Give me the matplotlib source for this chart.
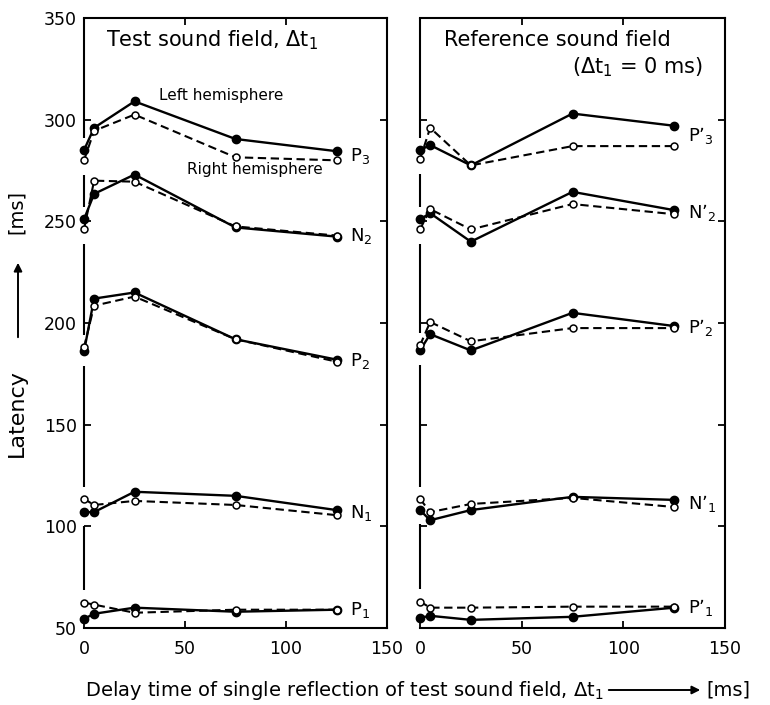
import matplotlib
matplotlib.use("Agg")
import matplotlib.pyplot as plt

# delay time of the single reflection [ms]
delays = [0, 5, 25, 75, 125]

# test sound field, left hemisphere (filled) / right hemisphere (open)
test_left = {
    "P$_3$": [285, 296, 309, 290.5, 284.5],
    "N$_2$": [251, 263.5, 273, 247, 242.5],
    "P$_2$": [186, 212, 215, 192, 182],
    "N$_1$": [107, 107, 117, 115, 108],
    "P$_1$": [54.5, 57, 60, 58, 59],
}
test_right = {
    "P$_3$": [280, 294.5, 302.5, 281.5, 280],
    "N$_2$": [246, 270, 269.5, 247.5, 243],
    "P$_2$": [188, 208.5, 213, 192, 181],
    "N$_1$": [113.5, 110.5, 112.5, 110.5, 105.5],
    "P$_1$": [62.5, 61.5, 57.5, 59, 59],
}

# reference sound field
ref_left = {
    "P’$_3$": [285, 287.5, 277.5, 303, 297],
    "N’$_2$": [251, 254, 240, 264.5, 255.5],
    "P’$_2$": [186.5, 194.5, 186.5, 205, 198.5],
    "N’$_1$": [108, 103, 108, 114.5, 113],
    "P’$_1$": [55, 56, 54, 55.5, 60],
}
ref_right = {
    "P’$_3$": [280.5, 296, 277.5, 287, 287],
    "N’$_2$": [246, 256, 246, 258.5, 253.5],
    "P’$_2$": [189, 200.5, 191, 197.5, 197.5],
    "N’$_1$": [113.5, 107, 111, 114, 109.5],
    "P’$_1$": [63, 60, 60, 60.5, 60.5],
}

W, H = 770, 705
plt.rcParams['font.family'] = ['DejaVu Sans']
plt.rcParams['mathtext.fontset'] = 'dejavusans'
plt.rcParams['mathtext.default'] = 'regular'
fig = plt.figure(figsize=(W / 100, H / 100), dpi=100)

def fx(px):
    return px / W

def fy(py):
    return 1 - py / H

ax1 = fig.add_axes([fx(84), fy(628), fx(387) - fx(84), fy(18) - fy(628)])
ax2 = fig.add_axes([fx(420), fy(628), fx(725) - fx(420), fy(18) - fy(628)])


def draw_panel(ax, left, right):
    for name in left:
        ax.plot(delays, left[name], '-', color='black', lw=1.7, marker='o',
                ms=6, mfc='black', mec='black', clip_on=False, zorder=3)
        ax.plot(delays, right[name], color='black', lw=1.5, ls=(0, (4, 2.2)),
                marker='o', ms=5, mfc='white', mec='black', mew=1.1,
                clip_on=False, zorder=4)
        ylab = (left[name][-1] + right[name][-1]) / 2
        ax.annotate(name, (delays[-1], ylab), xytext=(10, 0),
                    textcoords='offset points', ha='left', va='center',
                    fontsize=13)

    ax.set_xlim(0, 150)
    ax.set_ylim(50, 350)
    ax.set_xticks([0, 50, 100, 150])
    ax.set_yticks([50, 100, 150, 200, 250, 300, 350])
    ax.tick_params(direction='in', top=True, right=True, length=5, width=1.3,
                   labelsize=12.5)
    ax.tick_params(axis='x', pad=9)
    ax.tick_params(axis='y', pad=5)
    for s in ax.spines.values():
        s.set_linewidth(1.5)

    # left axis line is interrupted where the curves start
    ax.spines['left'].set_visible(False)
    gaps = []
    for name in left:
        v0 = [left[name][0], right[name][0]]
        gaps.append((min(v0) - 7, max(v0) + 6))
    gaps.sort()
    lo = 50
    for g0, g1 in gaps:
        if g0 > lo:
            ax.plot([0, 0], [lo, g0], color='black', lw=1.5, clip_on=False,
                    solid_capstyle='butt')
        lo = g1
    ax.plot([0, 0], [lo, 350], color='black', lw=1.5, clip_on=False,
            solid_capstyle='butt')


draw_panel(ax1, test_left, test_right)
draw_panel(ax2, ref_left, ref_right)
ax2.tick_params(labelleft=False)

ax1.text(11, 339, "Test sound field, Δt$_1$", fontsize=15, ha='left', va='center')
ax1.text(37, 312, "Left hemisphere", fontsize=11, ha='left', va='center')
ax1.text(51, 275.5, "Right hemisphere", fontsize=11, ha='left', va='center')
ax2.text(12, 339, "Reference sound field", fontsize=15, ha='left', va='center')
ax2.text(139, 326, "(Δt$_1$ = 0 ms)", fontsize=15, ha='right', va='center')

# axis labels with arrows
fig.text(fx(17), fy(413), "Latency", rotation=90, fontsize=16,
         ha='center', va='center')
fig.text(fx(16), fy(212), "[ms]", rotation=90, fontsize=14,
         ha='center', va='center')
fig.add_artist(matplotlib.patches.FancyArrowPatch(
    (fx(18), fy(340)), (fx(18), fy(260)), transform=fig.transFigure,
    arrowstyle='-|>', mutation_scale=12, color='black', lw=1.4))

fig.text(fx(85), fy(690), "Delay time of single reflection of test sound field, Δt$_1$",
         fontsize=14, ha='left', va='center')
fig.add_artist(matplotlib.patches.FancyArrowPatch(
    (fx(606), fy(690)), (fx(703), fy(690)), transform=fig.transFigure,
    arrowstyle='-|>', mutation_scale=12, color='black', lw=1.4))
fig.text(fx(706), fy(690), "[ms]", fontsize=14, ha='left', va='center')

fig.savefig("out.png", dpi=100)
